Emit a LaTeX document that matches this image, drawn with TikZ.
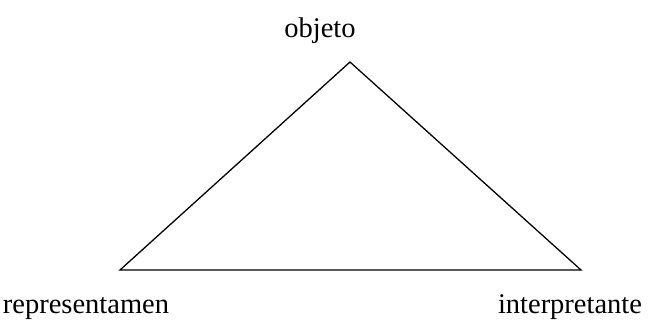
\documentclass[tikz,border=0pt]{standalone}
\usepackage{fontspec}
\setmainfont{Liberation Serif}
\begin{document}
\begin{tikzpicture}[x=1pt,y=-1pt,
  lbl/.style={font=\fontsize{28.5}{31}\selectfont, inner sep=0pt, anchor=base}]
\useasboundingbox (0,0) rectangle (651,322);
\coordinate (T) at (350,62);
\coordinate (L) at (120,270);
\coordinate (R) at (581,270);
\draw[line width=1.3pt, line join=miter] (T) -- (L) -- (R) -- cycle;
\node[lbl] (obj) at (320,37) {objeto};
\node[lbl] (rep) at (86,313) {representamen};
\node[lbl] (int) at (570,313) {interpretante};
\end{tikzpicture}
\end{document}
